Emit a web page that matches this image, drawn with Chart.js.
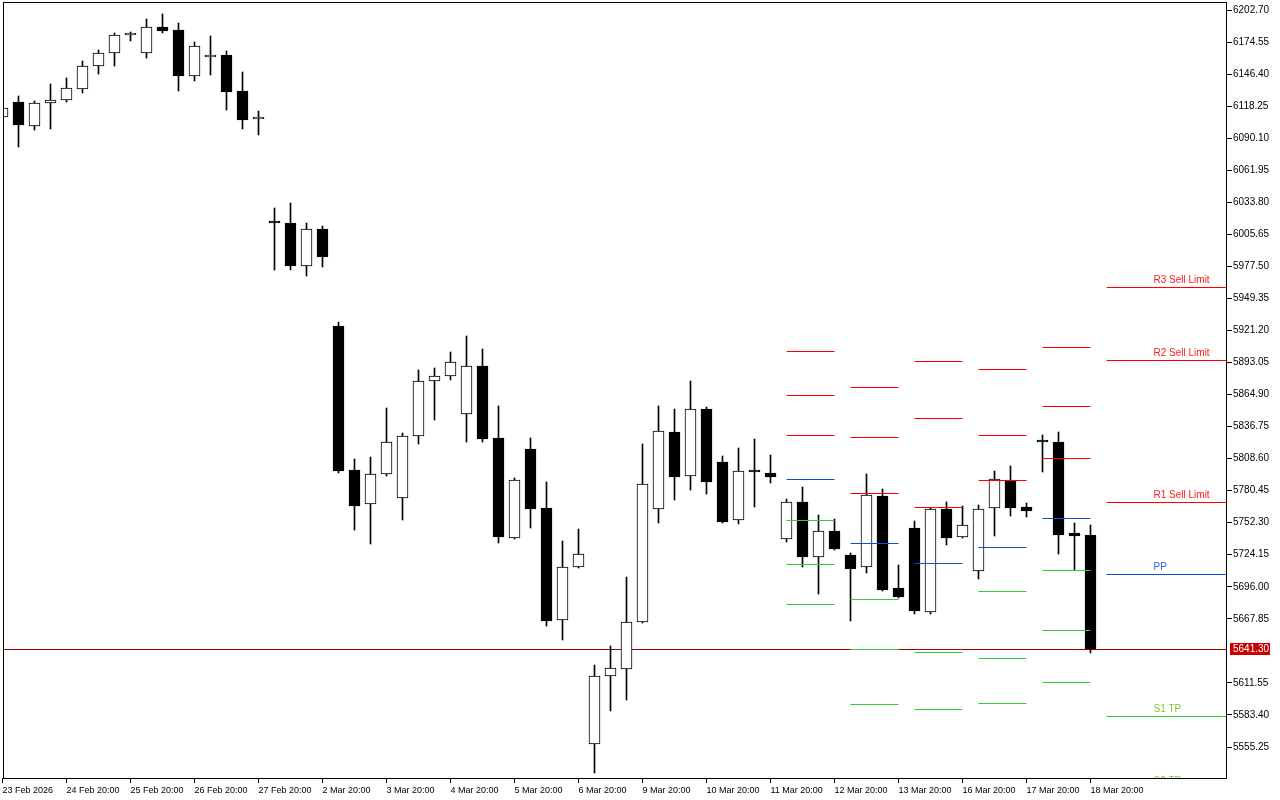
<!DOCTYPE html>
<html>
<head>
<meta charset="utf-8">
<title>US500 H6 pivots</title>
<script src="https://cdn.jsdelivr.net/npm/chart.js@4.4.1/dist/chart.umd.min.js"></script>
<style>
  html, body { margin: 0; padding: 0; background: #ffffff; }
  canvas { display: block; }
</style>
</head>
<body>
<canvas id="priceChart" width="1280" height="800"></canvas>
<script>
// Candles (index = bar number from the left)
const opens = [6108.7, 6121.9, 6100.8, 6121.0, 6123.6, 6133.3, 6153.5, 6164.9, 6180.4, 6164.9,
  6187.8, 6185.1, 6144.7, 6161.4, 6163.2, 6131.5, 6106.9, 6015.9, 6015.6, 5977.8,
  6010.3, 5925.1, 5798.5, 5768.7, 5795.0, 5773.9, 5828.4, 5876.7, 5881.1, 5847.7,
  5889.9, 5826.7, 5738.8, 5817.0, 5765.2, 5666.8, 5713.3, 5557.8, 5617.6, 5623.7,
  5665.0, 5764.3, 5831.9, 5793.3, 5852.1, 5805.6, 5754.6, 5797.2, 5795.9, 5737.9,
  5770.4, 5722.1, 5744.9, 5723.9, 5713.3, 5775.7, 5694.9, 5747.6, 5673.8, 5764.3,
  5739.7, 5709.8, 5765.2, 5789.8, 5766.0, 5823.5, 5823.1, 5743.2, 5741.4];
const highs = [6118.5, 6127.1, 6122.7, 6137.7, 6143.0, 6157.9, 6167.6, 6182.5, 6183.4, 6194.8,
  6199.2, 6191.3, 6174.6, 6179.9, 6166.7, 6148.2, 6114.0, 6028.7, 6033.1, 6015.6,
  6012.9, 5928.6, 5808.2, 5810.0, 5853.0, 5831.1, 5886.4, 5888.2, 5902.2, 5916.3,
  5904.8, 5854.8, 5791.5, 5826.7, 5788.0, 5736.2, 5746.7, 5627.2, 5643.9, 5704.5,
  5821.4, 5854.8, 5852.1, 5876.7, 5853.9, 5810.8, 5817.9, 5825.8, 5811.7, 5773.1,
  5783.6, 5759.0, 5755.5, 5725.6, 5795.0, 5781.8, 5715.1, 5753.7, 5765.0, 5770.4,
  5766.9, 5767.8, 5797.7, 5802.1, 5769.6, 5829.3, 5831.9, 5752.0, 5750.2];
const lows = [6105.0, 6082.3, 6097.3, 6098.2, 6121.9, 6129.8, 6146.5, 6153.5, 6175.5, 6160.5,
  6182.5, 6131.5, 6140.3, 6145.6, 6114.8, 6098.2, 6092.9, 5974.3, 5974.3, 5969.0,
  5976.9, 5795.9, 5745.8, 5733.5, 5793.5, 5754.6, 5821.4, 5842.5, 5877.6, 5823.1,
  5823.1, 5734.4, 5738.0, 5747.6, 5661.5, 5649.2, 5712.4, 5532.3, 5586.8, 5596.5,
  5664.5, 5752.0, 5772.2, 5781.0, 5777.5, 5752.0, 5751.1, 5766.0, 5787.1, 5735.3,
  5713.3, 5689.6, 5728.5, 5665.9, 5708.0, 5692.2, 5686.5, 5672.0, 5672.0, 5732.6,
  5739.2, 5702.8, 5740.6, 5758.1, 5757.3, 5796.8, 5724.7, 5710.7, 5638.0];
const closes = [6116.6, 6101.7, 6121.0, 6123.6, 6134.2, 6153.5, 6164.9, 6180.7, 6180.9, 6187.8,
  6184.3, 6144.7, 6171.1, 6163.2, 6130.7, 6106.1, 6108.7, 6015.3, 5977.8, 6010.3,
  5985.7, 5797.7, 5766.9, 5795.0, 5823.1, 5828.4, 5876.7, 5881.1, 5893.4, 5889.9,
  5825.8, 5739.7, 5789.8, 5764.3, 5665.9, 5713.3, 5724.7, 5617.6, 5624.6, 5665.0,
  5786.2, 5832.8, 5792.4, 5852.1, 5788.0, 5752.9, 5797.7, 5796.4, 5792.4, 5770.4,
  5722.1, 5744.9, 5729.1, 5711.6, 5776.6, 5693.1, 5687.0, 5674.7, 5764.3, 5738.8,
  5750.2, 5764.3, 5790.6, 5765.2, 5762.5, 5822.8, 5741.4, 5740.6, 5641.3];

// Time axis labels (every 4th bar)
const labelIndex = [0, 4, 8, 12, 16, 20, 24, 28, 32, 36, 40, 44, 48, 52, 56, 60, 64, 68];
const dateLabels = ['23 Feb 2026', '24 Feb 20:00', '25 Feb 20:00', '26 Feb 20:00', '27 Feb 20:00',
  '2 Mar 20:00', '3 Mar 20:00', '4 Mar 20:00', '5 Mar 20:00', '6 Mar 20:00', '9 Mar 20:00',
  '10 Mar 20:00', '11 Mar 20:00', '12 Mar 20:00', '13 Mar 20:00', '16 Mar 20:00',
  '17 Mar 20:00', '18 Mar 20:00'];

// Price scale labels
const priceTicks = [6202.70, 6174.55, 6146.40, 6118.25, 6090.10, 6061.95, 6033.80, 6005.65,
  5977.50, 5949.35, 5921.20, 5893.05, 5864.90, 5836.75, 5808.60, 5780.45, 5752.30, 5724.15,
  5696.00, 5667.85, 5611.55, 5583.40, 5555.25];

// Daily pivot levels: one value per day, segments run from pivotStart to pivotEnd bar
const pivotStart = [49, 53, 57, 61, 65, 69];
const pivotEnd = [52, 56, 60, 64, 68, 76.53125];
const r3 = [5903.1, 5871.5, 5894.3, 5887.3, 5906.6, 5959.3];
const r2 = [5864.4, 5827.5, 5844.2, 5829.3, 5854.8, 5895.2];
const r1 = [5829.3, 5778.3, 5766.0, 5789.8, 5809.1, 5770.4];
const pp = [5790.6, 5734.4, 5716.8, 5730.9, 5756.4, 5707.2];
const s1 = [5754.6, 5685.2, 5638.6, 5692.2, 5710.7, 5582.4];
const s2 = [5716.0, 5641.3, 5588.6, 5633.4, 5658.0, 5519.1];
const s3 = [5680.8, 5593.0, 5510.4, 5593.8, 5612.3, 5394.3];

const lastPrice = 5641.30;

const xMin = 0.03125;
const xMax = 76.53125;

const RED = '#ff0000';
const BLUE = '#0a50d2';
const GREEN = '#32cd32';

// build a segmented line (gaps between days)
function pivotData(levels) {
  const pts = [];
  levels.forEach((v, i) => {
    pts.push({ x: pivotStart[i], y: v });
    pts.push({ x: pivotEnd[i], y: v });
    pts.push({ x: pivotEnd[i] + 0.5, y: null });
  });
  return pts;
}

const pivotSets = [
  { name: 'R3 Sell Limit', levels: r3, color: RED, text: '#ff1a1a' },
  { name: 'R2 Sell Limit', levels: r2, color: RED, text: '#ff1a1a' },
  { name: 'R1 Sell Limit', levels: r1, color: RED, text: '#ff1a1a' },
  { name: 'PP', levels: pp, color: BLUE, text: '#2a64dc' },
  { name: 'S1 TP', levels: s1, color: GREEN, text: '#7acc30' },
  { name: 'S2 TP', levels: s2, color: GREEN, text: '#7acc30' },
  { name: 'S3 TP', levels: s3, color: GREEN, text: '#7acc30' },
];

const wickData = highs.map((h, i) => ({ x: i, y: [lows[i], h] }));
const bodyData = opens.map((o, i) => ({ x: i, y: [o, closes[i]] }));
const bodyColors = opens.map((o, i) => (closes[i] >= o ? '#ffffff' : '#000000'));

const datasets = [];

pivotSets.forEach((p) => {
  datasets.push({
    type: 'line',
    label: p.name,
    data: pivotData(p.levels),
    borderColor: p.color,
    borderWidth: 1,
    pointRadius: 0,
    spanGaps: false,
    order: 0,
  });
});

datasets.push({
  type: 'bar',
  label: 'body',
  data: bodyData,
  backgroundColor: bodyColors,
  borderColor: '#000000',
  borderWidth: 1,
  borderSkipped: false,
  barThickness: 11,
  minBarLength: 2,
  grouped: false,
  order: 1,
});

datasets.push({
  type: 'bar',
  label: 'wick',
  data: wickData,
  backgroundColor: '#000000',
  borderWidth: 0,
  barThickness: 1,
  grouped: false,
  order: 2,
});

datasets.push({
  type: 'line',
  label: 'bid',
  data: [{ x: xMin, y: lastPrice }, { x: xMax, y: lastPrice }],
  borderColor: '#a80000',
  borderWidth: 1,
  pointRadius: 0,
  order: 3,
});

// snap elements to whole pixels so 1px lines stay sharp
const snapPlugin = {
  id: 'snap',
  beforeDatasetsDraw(chart) {
    chart.getSortedVisibleDatasetMetas().forEach((meta) => {
      meta.data.forEach((el) => {
        if (meta.type === 'line') {
          if (isFinite(el.y)) el.y = Math.round(el.y - 0.5) + 0.5;
        } else {
          el.y = Math.round(el.y);
          el.base = Math.round(el.base);
        }
      });
    });
  },
};

// frame, price tag, level captions
const decoPlugin = {
  id: 'deco',
  afterDatasetsDraw(chart) {
    const { ctx, chartArea } = chart;
    const xs = chart.scales.x;
    const ys = chart.scales.y;
    const last = pivotStart.length - 1;
    ctx.save();
    ctx.beginPath();
    ctx.rect(chartArea.left, chartArea.top, chartArea.right - chartArea.left, chartArea.bottom - chartArea.top);
    ctx.clip();
    ctx.font = '10px "Liberation Sans", Arial, sans-serif';
    ctx.textAlign = 'left';
    ctx.textBaseline = 'bottom';
    const tx = xs.getPixelForValue(pivotStart[last] + 3) - 1;
    pivotSets.forEach((p) => {
      const y = Math.round(ys.getPixelForValue(p.levels[last]));
      ctx.fillStyle = p.text;
      ctx.fillText(p.name, tx, y - 2);
    });
    ctx.restore();
  },
  afterDraw(chart) {
    const { ctx, chartArea } = chart;
    const ys = chart.scales.y;
    ctx.save();
    ctx.strokeStyle = '#000000';
    ctx.lineWidth = 1;
    ctx.strokeRect(chartArea.left + 0.5, chartArea.top + 0.5,
      chartArea.right - chartArea.left - 1, chartArea.bottom - chartArea.top);
    // last price tag
    const y = Math.round(ys.getPixelForValue(lastPrice));
    ctx.fillStyle = '#c80000';
    ctx.fillRect(chartArea.right + 3, y - 6, 40, 12);
    ctx.fillStyle = '#ffffff';
    ctx.font = '10px "Liberation Sans", Arial, sans-serif';
    ctx.textAlign = 'left';
    ctx.textBaseline = 'middle';
    ctx.fillText(lastPrice.toFixed(2), chartArea.right + 6, y + 0.5);
    ctx.restore();
  },
};

const chart = new Chart(document.getElementById('priceChart').getContext('2d'), {
  type: 'bar',
  data: { datasets: datasets },
  options: {
    responsive: false,
    animation: false,
    events: [],
    layout: { padding: { left: 3, top: 2, right: 0, bottom: 0 } },
    plugins: {
      legend: { display: false },
      tooltip: { enabled: false },
    },
    scales: {
      x: {
        type: 'linear',
        min: xMin,
        max: xMax,
        offset: false,
        grid: { display: true, offset: false, drawOnChartArea: false, drawTicks: true, tickLength: 5, color: '#000000' },
        border: { display: false },
        afterBuildTicks: (axis) => {
          axis.ticks = labelIndex.map((v) => ({ value: v }));
        },
        afterFit: (axis) => {
          axis.height = 22;
          axis.paddingLeft = 0;
          axis.paddingRight = 0;
        },
        ticks: {
          autoSkip: false,
          maxRotation: 0,
          align: 'start',
          padding: 2,
          color: '#000000',
          font: { family: '"Liberation Sans", Arial, sans-serif', size: 9 },
          callback: (value) => {
            const i = labelIndex.indexOf(value);
            return i >= 0 ? dateLabels[i] : '';
          },
        },
      },
      y: {
        type: 'linear',
        position: 'right',
        min: 5528.02,
        max: 6209.73,
        grid: { display: true, drawOnChartArea: false, drawTicks: true, tickLength: 5, color: '#000000' },
        border: { display: false },
        afterBuildTicks: (axis) => {
          axis.ticks = priceTicks.map((v) => ({ value: v }));
        },
        afterFit: (axis) => {
          axis.width = 53;
          axis.paddingTop = 0;
          axis.paddingBottom = 0;
        },
        ticks: {
          autoSkip: false,
          padding: 1,
          color: '#000000',
          font: { family: '"Liberation Sans", Arial, sans-serif', size: 10 },
          callback: (value) => Number(value).toFixed(2),
        },
      },
    },
  },
  plugins: [snapPlugin, decoPlugin],
});
</script>
</body>
</html>
